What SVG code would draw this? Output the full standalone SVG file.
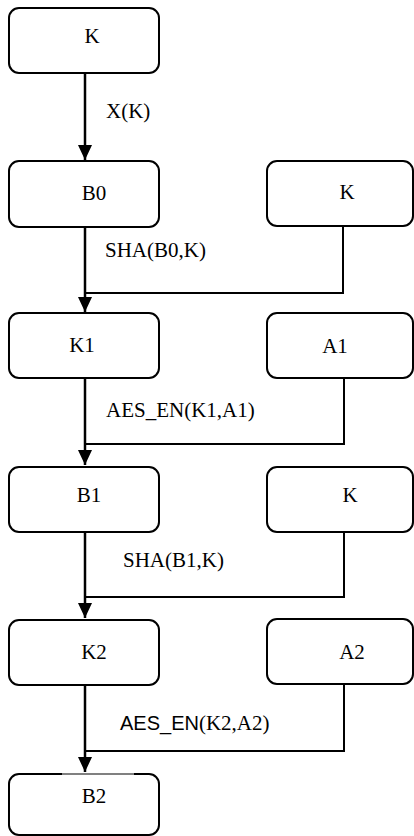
<svg xmlns="http://www.w3.org/2000/svg" width="414" height="836" viewBox="0 0 414 836">
<style>
.box{fill:#fff;stroke:#000;stroke-width:2}
text{font-family:'Liberation Serif','Times New Roman',serif;font-size:21px;fill:#000}
.c{text-anchor:middle}
.ln{fill:none;stroke:#000;stroke-width:2}
.main{fill:none;stroke:#000;stroke-width:2.5}
</style>
<defs>
<marker id="ah" markerUnits="userSpaceOnUse" markerWidth="16" markerHeight="16" refX="15" refY="7" orient="auto">
<path d="M0,0 L15,7 L0,14 z" fill="#000"/>
</marker>
</defs>
<rect width="414" height="836" fill="#fff"/>
<g id="connectors">
<line class="main" x1="85" y1="73" x2="85" y2="160" marker-end="url(#ah)"/>
<line class="main" x1="85" y1="227" x2="85" y2="312" marker-end="url(#ah)"/>
<polyline class="ln" points="343,226 343,293 85,293"/>
<line class="main" x1="85" y1="378" x2="85" y2="465" marker-end="url(#ah)"/>
<polyline class="ln" points="344,378 344,444 85,444"/>
<line class="main" x1="85" y1="532" x2="85" y2="618" marker-end="url(#ah)"/>
<polyline class="ln" points="344,532 344,597 85,597"/>
<line class="main" x1="85" y1="685" x2="85" y2="772" marker-end="url(#ah)"/>
<polyline class="ln" points="344,684 344,751 85,751"/>
<text x="106" y="118">X(K)</text>
<text x="105" y="257">SHA(B0,K)</text>
<text x="106" y="417">AES_EN(K1,A1)</text>
<text x="123" y="567">SHA(B1,K)</text>
<text x="120" y="730"><tspan style="font-family:'Liberation Sans',Arial,sans-serif;font-size:20px">AES_EN</tspan>(K2,A2)</text>
</g>
<g id="n_k0"><rect class="box" x="9" y="8" width="150" height="65" rx="10"/><text class="c" x="92" y="43">K</text></g>
<g id="n_b0"><rect class="box" x="9" y="161" width="150" height="66" rx="10"/><text class="c" x="94" y="200">B0</text></g>
<g id="n_k_r1"><rect class="box" x="267" y="161" width="146" height="65" rx="10"/><text class="c" x="347" y="199">K</text></g>
<g id="n_k1"><rect class="box" x="9" y="313" width="150" height="65" rx="10"/><text class="c" x="82" y="352">K1</text></g>
<g id="n_a1"><rect class="box" x="267" y="313" width="146" height="65" rx="10"/><text class="c" x="335" y="353">A1</text></g>
<g id="n_b1"><rect class="box" x="9" y="467" width="150" height="65" rx="10"/><text class="c" x="89" y="502">B1</text></g>
<g id="n_k_r2"><rect class="box" x="267" y="467" width="146" height="65" rx="10"/><text class="c" x="350" y="502">K</text></g>
<g id="n_k2"><rect class="box" x="9" y="620" width="150" height="65" rx="10"/><text class="c" x="94" y="659">K2</text></g>
<g id="n_a2"><rect class="box" x="267" y="619" width="146" height="65" rx="10"/><text class="c" x="352" y="659">A2</text></g>
<g id="n_b2"><rect class="box" x="9" y="774" width="150" height="61" rx="10"/><line x1="62" y1="774" x2="134" y2="774" stroke="#fff" stroke-width="1.2"/><text class="c" x="94" y="803">B2</text></g>
</svg>
